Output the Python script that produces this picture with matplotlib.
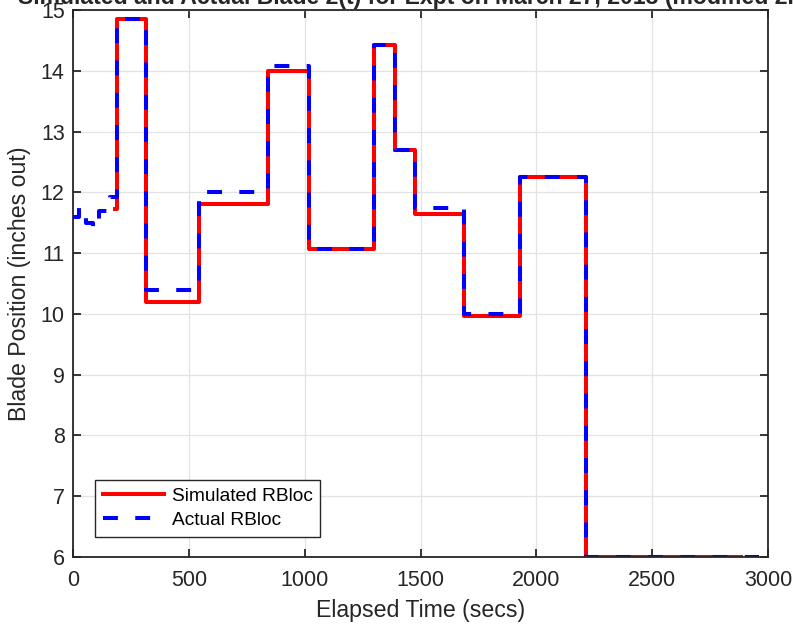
import matplotlib
matplotlib.use("Agg")
import matplotlib.pyplot as plt

plt.rcParams['font.family'] = ['Liberation Sans', 'DejaVu Sans']

# Step data (time in secs, blade position in inches out)
sim_t = [183, 188, 316, 545, 843, 1020, 1301, 1388, 1478, 1686, 1928, 2213, 2885]
sim_y = [11.72, 14.85, 10.2, 11.8, 14.0, 11.07, 14.43, 12.7, 11.65, 9.97, 12.25, 6.0, 6.0]

act_t = [0, 28, 58, 85, 112, 160, 188, 316, 545, 843, 1020, 1301, 1388, 1478, 1686, 1928, 2213, 2962]
act_y = [11.6, 11.75, 11.5, 11.42, 11.7, 11.93, 14.85, 10.4, 12.0, 14.08, 11.07, 14.43, 12.7, 11.75, 10.0, 12.25, 6.0, 6.0]

title = "Simulated and Actual Blade 2(t) for Expt on March 27, 2013 (modified 2nd order model)"

fig = plt.figure(figsize=(7.93, 6.28), dpi=100)
ax = fig.add_axes([73 / 793, 1 - 557 / 628, 695 / 793, 547 / 628])

ax.plot(sim_t, sim_y, drawstyle='steps-post', color='#FF0000', lw=2.9,
        label='Simulated RBloc')
ax.plot(act_t, act_y, drawstyle='steps-post', color='#0000FF', lw=2.9,
        linestyle=(0, (3.7, 4.3)), label='Actual RBloc')

ax.set_xlim(0, 3000)
ax.set_ylim(6, 15)
ax.set_xticks(range(0, 3001, 500))
ax.set_yticks(range(6, 16))

ax.grid(True, color='#e3e3e3', lw=0.9)
ax.set_axisbelow(True)
for s in ax.spines.values():
    s.set_color('#262626')
    s.set_linewidth(1.3)
ax.tick_params(direction='in', length=6, width=1.3, top=True, right=True,
               labelsize=15.5, colors='#262626')
ax.tick_params(axis='x', pad=9)
ax.tick_params(axis='y', pad=6)

ax.set_xlabel('Elapsed Time (secs)', fontsize=16.7, color='#262626', labelpad=6)
ax.set_ylabel('Blade Position (inches out)', fontsize=16.7, color='#262626', labelpad=7)

# title sits mostly above the figure edge, as in the original export
fig.text(18 / 793, 1 - 4 / 628, title, fontsize=16.6, fontweight='bold',
         color='#262626', ha='left', va='baseline')

leg = ax.legend(loc='lower left', bbox_to_anchor=(0.032, 0.037), fontsize=13.8,
                handlelength=3.2, handletextpad=0.4, borderpad=0.4,
                labelspacing=0.35, fancybox=False, framealpha=1, borderaxespad=0)
leg.get_frame().set_edgecolor('#262626')
leg.get_frame().set_linewidth(1.0)

fig.savefig('out.png', dpi=100)
